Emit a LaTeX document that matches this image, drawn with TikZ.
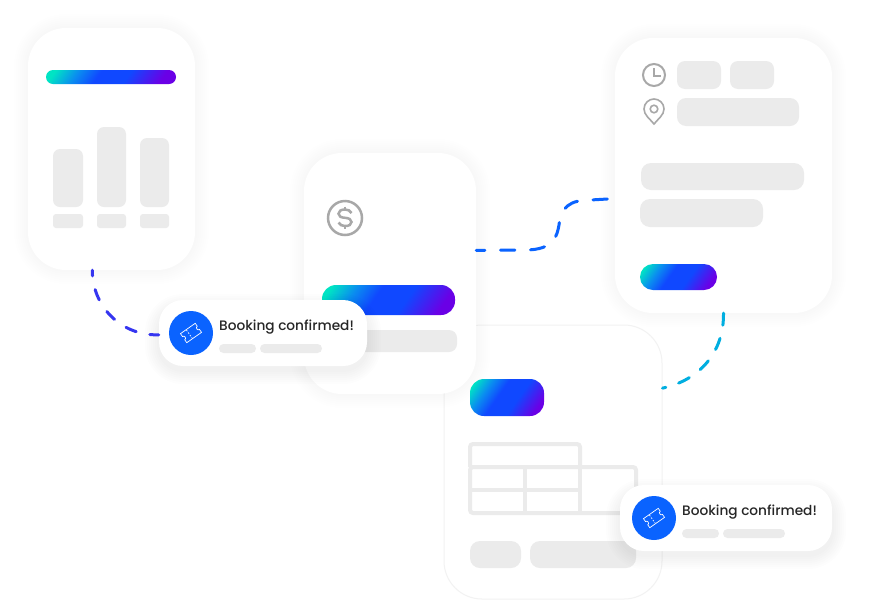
\documentclass[tikz,border=0pt]{standalone}
\usepackage{fontspec}
\setmainfont{Poppins}[UprightFont=* Medium]
\definecolor{skel}{HTML}{EBEBEB}
\definecolor{icongray}{HTML}{A8A8A8}
\definecolor{brandteal}{HTML}{00E4C4}
\definecolor{brandsky}{HTML}{0A8CF0}
\definecolor{brandblue}{HTML}{1048FF}
\definecolor{brandpurple}{HTML}{6A00E6}
\definecolor{tickblue}{HTML}{0A63FF}
\definecolor{dashindigo}{HTML}{3535F0}
\definecolor{dashcyan}{HTML}{00AEE0}
\pgfdeclarehorizontalshading{brandshade}{100bp}{color(0bp)=(brandteal); color(20bp)=(brandteal);
  color(32bp)=(brandsky); color(43bp)=(brandblue); color(58bp)=(brandblue); color(76bp)=(brandpurple); color(100bp)=(brandpurple)}
% soft halo under a card: x1 y1 x2 y2 radius opacity yshift
\newcommand{\softhalo}[7]{
  \foreach \s in {2,4,...,14} {
    \fill[black,opacity=#6,rounded corners={(#5+\s)*1pt}] (#1-\s,#2-\s+#7) rectangle (#3+\s,#4+\s+#7);
  }
}
\tikzset{
  skelbar/.style={fill=skel,rounded corners=#1},
  skelbar/.default=6pt,
  brandbar/.style={shading=brandshade,shading angle=-35,rounded corners=#1},
  icon/.style={draw=icongray,line width=2pt},
  card/.style={fill=white,rounded corners=38pt,inner sep=0pt},
  dashline/.style={line width=3pt,line cap=round},
  pics/toast/.style={code={
    \node[fill=white,rounded corners=24pt,minimum width=#1 pt,minimum height=66pt,inner sep=0pt] (-box) at (0,0) {};
    \node[circle,fill=tickblue,minimum size=44pt,inner sep=0pt] (-disc) at (-72,0) {};
    \begin{scope}[shift={(-72,0)},rotate=35,draw=white,line width=.7pt]
      \draw[white] (-9,-5.5) -- (9,-5.5) -- (9,-2) .. controls (6.5,-2) and (6.5,2) .. (9,2) -- (9,5.5)
        -- (-9,5.5) -- (-9,2) .. controls (-6.5,2) and (-6.5,-2) .. (-9,-2) -- cycle;
      \draw[white,dash pattern=on 1.5pt off 1.5pt] (-2,-5) -- (-2,5);
    \end{scope}
    \node[anchor=west,inner sep=0pt,font=\fontsize{13.7pt}{14pt}\selectfont,text=black!85] (-label) at (-44,-5.5) {Booking confirmed!};
    \fill[skelbar=4.5pt] (-44,11) rectangle (-7,20);
    \fill[skelbar=4.5pt] (-3,11) rectangle (59,20);
  }}
}
\begin{document}
\begin{tikzpicture}[x=1pt,y=-1pt]
  \useasboundingbox (0,0) rectangle (890,600);
  \fill[white] (0,0) rectangle (890,600);

  % table card
  \node[fill=white,draw=black!5,line width=1pt,rounded corners=38pt,minimum width=218pt,minimum height=274pt,inner sep=0pt] (cardtable) at (553,462) {};
  \draw[skel,line width=4pt,rounded corners=3pt] (470,467) -- (470,444) -- (580,444) -- (580,467);
  \draw[skel,line width=4pt,rounded corners=3pt] (470,467) rectangle (636,513);
  \draw[skel,line width=4pt] (470,490) -- (580,490);
  \draw[skel,line width=4pt] (525,467) -- (525,513);
  \draw[skel,line width=4pt] (580,467) -- (580,513);
  \fill[skelbar=10pt] (470,541) rectangle (521,568);
  \fill[skelbar=10pt] (530,541) rectangle (636,568);

  % chart card
  \softhalo{28}{28}{195}{270}{38}{0.004}{0}
  \node[card,minimum width=167pt,minimum height=242pt] (cardchart) at (111.5,149) {};
  \path[brandbar=7pt] (46,70) rectangle (176,84);
  \foreach \xa/\xb/\ytop in {53/83/149,97/126/127,140/169/138} {
    \fill[skelbar=7pt] (\xa,\ytop) rectangle (\xb,207);
    \fill[skelbar=3pt] (\xa,214) rectangle (\xb,228);
  }

  % pay card
  \softhalo{304}{153}{476}{394}{38}{0.004}{0}
  \node[card,minimum width=172pt,minimum height=241pt] (cardpay) at (390,273.5) {};
  \draw[icon,line width=2.5pt] (345,218) circle (17);
  \draw[icon,line width=2.5pt] (351.5,213) .. controls (350,210.5) and (348,209.5) .. (345,209.5)
    .. controls (341,209.5) and (338.5,211) .. (338.5,213.7) .. controls (338.5,216.5) and (341,217.5) .. (345,217.8)
    .. controls (349,218.2) and (351.5,219.3) .. (351.5,222) .. controls (351.5,224.7) and (349,226) .. (345,226)
    .. controls (342,226) and (340,225) .. (338.5,222.5);
  \draw[icon,line width=2.5pt] (345,206.5) -- (345,209.5);
  \draw[icon,line width=2.5pt] (345,226) -- (345,229);
  \path[brandbar=14pt] (322,285) rectangle (455,315);
  \fill[skelbar=8pt] (322,330) rectangle (457,352);
  \path[brandbar=14pt] (470,379) rectangle (544,416);

  % time card
  \softhalo{615}{38}{832}{313}{38}{0.004}{0}
  \node[card,minimum width=217pt,minimum height=275pt] (cardtime) at (723.5,175.5) {};
  \draw[icon] (654,75) circle (11);
  \draw[icon,line width=1.6pt] (654,68) -- (654,76) -- (661,76);
  \draw[icon,line width=1.6pt] (654,124) .. controls (650,119) and (644,115) .. (644,109)
    .. controls (644,103) and (649,99) .. (654,99) .. controls (659,99) and (664,103) .. (664,109)
    .. controls (664,115) and (658,119) .. (654,124) -- cycle;
  \draw[icon,line width=1.6pt] (654,109) circle (3.8);
  \fill[skelbar=8pt] (677,61) rectangle (721,89);
  \fill[skelbar=8pt] (730,61) rectangle (774,89);
  \fill[skelbar=9pt] (677,98) rectangle (799,126);
  \fill[skelbar=10pt] (641,163) rectangle (804,190);
  \fill[skelbar=10pt] (640,199) rectangle (763,227);
  \path[brandbar=13pt] (640,264) rectangle (717,290);

  \softhalo{159}{304}{367}{366}{24}{0.008}{4}
  \pic (toastleft) at (263,333) {toast=208};
  \softhalo{620}{489}{832}{551}{24}{0.008}{4}
  \pic (toastright) at (726,518) {toast=212};

  % connectors
  \draw[dashline,dashindigo,dash pattern=on 11pt off 14pt,dash phase=5.3pt] (cardchart.-99) .. controls (92,305) and (120,336) .. (toastleft-box.181.7);
  \draw[dashline,tickblue,dash pattern=on 14.4pt off 15.6pt,dash phase=5.7pt] (cardpay.15) -- (525,250) .. controls (555,250) and (557,235) .. (559,225)
    .. controls (561,207) and (570,200) .. (590,200) -- (cardtime.192.7);
  \draw[dashline,dashcyan,dash pattern=on 12pt off 13.5pt] (cardtime.south) .. controls (724,352) and (700,380) .. (cardtable.34.5);
\end{tikzpicture}
\end{document}
